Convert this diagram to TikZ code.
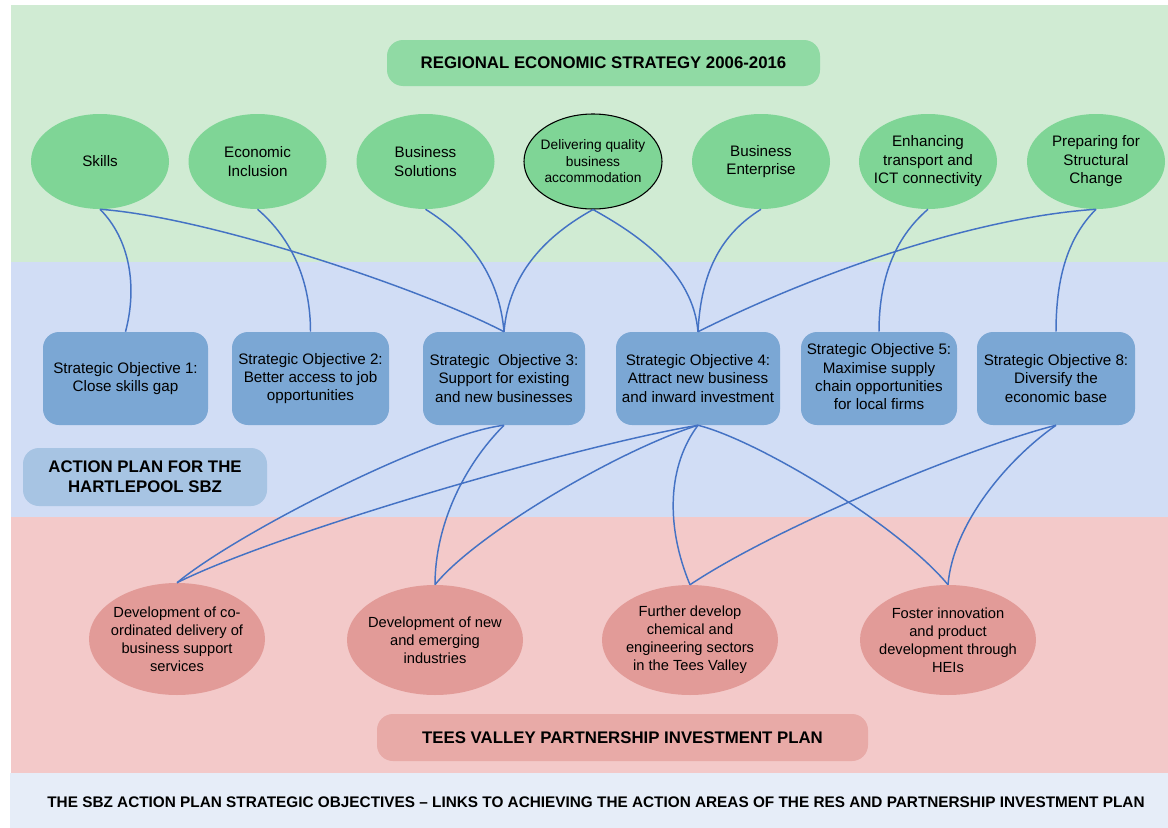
\documentclass[tikz,border=0pt]{standalone}
\usepackage{fontspec}
\setmainfont{Liberation Sans}
\usetikzlibrary{shapes.geometric}
\definecolor{bandgreen}{HTML}{D0EBD3}
\definecolor{bandblue}{HTML}{D1DDF5}
\definecolor{bandpink}{HTML}{F3C9C9}
\definecolor{bandfoot}{HTML}{E6EDF8}
\definecolor{ellgreen}{HTML}{7FD596}
\definecolor{titlegreen}{HTML}{90DAA4}
\definecolor{boxblue}{HTML}{7BA7D4}
\definecolor{actblue}{HTML}{A7C4E3}
\definecolor{ellpink}{HTML}{E29B98}
\definecolor{teespink}{HTML}{E8AAA7}
\definecolor{linkblue}{HTML}{4472C4}
\begin{document}
\begin{tikzpicture}[x=0.75pt,y=-0.75pt,
  res/.style={ellipse, fill=ellgreen, minimum width=103.5pt, minimum height=71.25pt, inner xsep=-20pt, inner ysep=0pt, align=center, font=\fontsize{11.4}{13.9}\selectfont},
  obj/.style={rectangle, rounded corners=12pt, fill=boxblue, minimum height=69.75pt, inner sep=0pt, align=center, font=\fontsize{11.4}{13.6}\selectfont},
  tv/.style={ellipse, fill=ellpink, minimum width=132pt, minimum height=82.5pt, inner xsep=-20pt, inner ysep=0pt, align=center, font=\fontsize{11}{13.6}\selectfont},
  banner/.style={rectangle, rounded corners=12pt, inner sep=0pt, align=center, font=\bfseries\fontsize{12.6}{15}\selectfont},
  link/.style={draw=linkblue, line width=1.1pt}
]
\useasboundingbox (0,0) rectangle (1168,828);
\fill[white] (0,0) rectangle (1168,828);
% bands
\fill[bandgreen] (11,5) rectangle (1168,262);
\fill[bandblue] (11,262) rectangle (1168,517);
\fill[bandpink] (11,517) rectangle (1168,773);
\fill[bandfoot] (10,773) rectangle (1168,828);

% banners
\node[banner, fill=titlegreen, minimum width=324.75pt, minimum height=34.5pt] (res) at (603.5,63) {REGIONAL ECONOMIC STRATEGY 2006-2016};
\node[banner, fill=actblue, minimum width=183pt, minimum height=43.5pt] (act) at (145,477) {ACTION PLAN FOR THE\\HARTLEPOOL SBZ};
\node[banner, fill=teespink, minimum width=368.25pt, minimum height=35.25pt] (tees) at (622.5,737.5) {TEES VALLEY PARTNERSHIP INVESTMENT PLAN};
\node[font=\bfseries\fontsize{11.5}{14}\selectfont, inner sep=0pt] (foot) at (596,802) {THE SBZ ACTION PLAN STRATEGIC OBJECTIVES -- LINKS TO ACHIEVING THE ACTION AREAS OF THE RES AND PARTNERSHIP INVESTMENT PLAN};

% RES ellipses
\node[res] (skills) at (100,161.5) {Skills};
\node[res] (econ) at (257.5,161.5) {Economic\\Inclusion};
\node[res] (bsol) at (425.5,161.5) {Business\\Solutions};
\node[res, draw=black, line width=0.8pt, font=\fontsize{10.3}{12.4}\selectfont] (deliv) at (593,161.5) {Delivering quality\\business\\accommodation};
\node[res] (bent) at (761,161.5) {Business\\Enterprise};
\node[res] (enh) at (928,161.5) {Enhancing\\transport and\\ICT connectivity};
\node[res] (prep) at (1096,161.5) {Preparing for\\Structural\\Change};

% strategic objectives
\node[obj, minimum width=123.75pt] (so1) at (125.5,378.5) {Strategic Objective 1:\\Close skills gap};
\node[obj, minimum width=117.75pt] (so2) at (310.5,378.5) {Strategic Objective 2:\\Better access to job\\opportunities};
\node[obj, minimum width=121.5pt] (so3) at (504,378.5) {Strategic~ Objective 3:\\Support for existing\\and new businesses};
\node[obj, minimum width=123pt] (so4) at (698,378.5) {Strategic Objective 4:\\Attract new business\\and inward investment};
\node[obj, minimum width=117pt] (so5) at (879,378.5) {\raisebox{-6.75pt}{\begin{tabular}{@{}c@{}}Strategic Objective 5:\\Maximise supply\\chain opportunities\\for local firms\end{tabular}}};
\node[obj, minimum width=118.5pt] (so6) at (1056,378.5) {Strategic Objective 8:\\Diversify the\\economic base};

% partnership ellipses
\node[tv, minimum height=84pt] (pd1) at (177,639) {Development of co-\\ordinated delivery of\\business support\\services};
\node[tv] (pd2) at (435,640) {Development of new\\and emerging\\industries};
\node[tv] (pd3) at (690,640) {Further develop\\chemical and\\engineering sectors\\in the Tees Valley};
\node[tv] (pd4) at (948,640) {Foster innovation\\and product\\development through\\HEIs};

% links RES -> objectives
\draw[link] (skills.south) .. controls +(30,30) and +(12,-45) .. (so1.north);
\draw[link] (skills.south) .. controls +(110,8) and +(-80,-42) .. (so3.north);
\draw[link] (econ.south) .. controls +(35,30) and +(0,-50) .. (so2.north);
\draw[link] (bsol.south) .. controls +(40,25) and +(-5,-60) .. (so3.north);
\draw[link] (deliv.south) .. controls +(-45,25) and +(5,-60) .. (so3.north);
\draw[link] (deliv.south) .. controls +(45,25) and +(-5,-60) .. (so4.north);
\draw[link] (bent.south) .. controls +(-40,25) and +(3,-60) .. (so4.north);
\draw[link] (prep.south) .. controls +(-120,8) and +(120,-60) .. (so4.north);
\draw[link] (enh.south) .. controls +(-35,30) and +(0,-50) .. (so5.north);
\draw[link] (prep.south) .. controls +(-30,30) and +(0,-50) .. (so6.north);

% links objectives -> partnership plan
\draw[link] (so3.south) .. controls +(-70,8) and +(60,-50) .. (pd1.north);
\draw[link] (so4.south) .. controls +(-120,20) and +(100,-50) .. (pd1.north);
\draw[link] (so3.south) .. controls +(-40,40) and +(0,-60) .. (pd2.north);
\draw[link] (so4.south) .. controls +(-80,25) and +(40,-50) .. (pd2.north);
\draw[link] (so4.south) .. controls +(-30,40) and +(-25,-60) .. (pd3.north);
\draw[link] (so4.south) .. controls +(60,15) and +(-50,-60) .. (pd4.north);
\draw[link] (so6.south) .. controls +(-80,20) and +(90,-60) .. (pd3.north);
\draw[link] (so6.south) .. controls +(-50,35) and +(5,-60) .. (pd4.north);
\end{tikzpicture}
\end{document}
